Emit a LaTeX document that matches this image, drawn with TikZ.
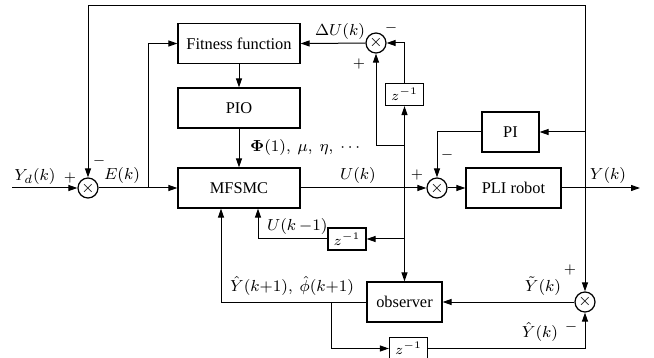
\documentclass[tikz,border=0pt]{standalone}
\usepackage{amsmath}
\usepackage[no-math]{fontspec}
\setmainfont{Liberation Serif}
\usetikzlibrary{arrows.meta,positioning}

\tikzset{
  block/.style={draw, line width=0.6pt, inner sep=0pt, minimum width=61pt, minimum height=20pt},
  smallblock/.style={draw, line width=0.6pt, inner sep=0pt, minimum width=19pt, minimum height=11pt,
    font=\fontsize{7}{8}\selectfont},
  sum/.style={draw, circle, line width=0.6pt, inner sep=0pt, minimum size=10pt},
  sign/.style={inner sep=0pt, font=\fontsize{7}{8}\selectfont}
}

\begin{document}
\begin{tikzpicture}[x=0.5pt, y=-0.5pt, line width=0.5pt,
    >={Triangle[length=4.5pt,width=3pt]},
    font=\fontsize{8.2}{9.8}\selectfont]
  \useasboundingbox (0,0) rectangle (654,358);
  % blocks
  \node[block] (fit) at (239,43.5) {Fitness function};
  \node[block] (pio) at (239,108) {PIO};
  \node[block] (mfsmc) at (239,188) {MFSMC};
  \node[block, minimum width=28.5pt] (pi) at (510.5,132) {PI};
  \node[block, minimum width=47.5pt] (robot) at (513.5,188) {PLI robot};
  \node[block, minimum width=37.5pt] (obs) at (404.5,302) {observer};
  \node[smallblock] (za) at (404.5,94.5) {$z^{-1}$};
  \node[smallblock] (zb) at (347,239) {$z^{-1}$};
  \node[smallblock] (zc) at (408.5,348.5) {$z^{-1}$};
  % summing junctions
  \node[sum] (s1) at (88,188) {$\times$};
  \node[sum] (s2) at (376,43) {$\times$};
  \node[sum] (s3) at (437,188) {$\times$};
  \node[sum] (s4) at (585,302) {$\times$};
  % branch points
  \coordinate (in) at (12,188);
  \coordinate (eb) at (148,188);
  \coordinate (out) at (640,188);
  \coordinate (yb) at (585,188);
  \coordinate (tl) at (88,6);
  \coordinate (pib) at (585,132);
  \coordinate (ub) at (404.5,188);
  \coordinate (ua) at (404.5,146);
  \coordinate (uc) at (404.5,239);
  \coordinate (ob) at (331,302);
  % forward path
  \draw[->] (in) -- (s1);
  \draw[->] (s1) -- (mfsmc);
  \draw[->] (eb) |- (fit.west);
  \draw[->] (fit) -- (pio);
  \draw[->] (pio) -- (mfsmc);
  \draw[->] (mfsmc) -- (s3);
  \draw[->] (s3) -- (robot);
  \draw[->] (robot) -- (out);
  % output feedback
  \draw[->] (yb) |- (tl) -- (s1);
  \draw[->] (pib) -- (pi.east);
  \draw[->] (pi.west) -| (s3.north);
  \draw[->] (yb) -- (s4);
  % control increment
  \draw[->] (ub) -- (za.south);
  \draw[->] (za.north) |- (s2.east);
  \draw[->] (ua) -| (s2.south);
  \draw[->] (s2) -- (fit.east);
  % observer loop
  \draw[->] (ub) -- (obs.north);
  \draw[->] (uc) -- (zb.east);
  \draw[->] (zb.west) -| ([xshift=9.5pt]mfsmc.south);
  \draw[->] (s4) -- (obs.east);
  \draw[->] (obs.west) -| ([xshift=-9pt]mfsmc.south);
  \draw[->] (ob) |- (zc.west);
  \draw[->] (zc.east) -| (s4.south);
  % labels
  \node at (35,177) {$Y_d(k)$};
  \node[sign] at (70,178) {$+$};
  \node[sign] at (99,161) {$-$};
  \node at (122,176) {$E(k)$};
  \node at (340,32) {$\Delta U(k)$};
  \node[sign] at (391,28) {$-$};
  \node[sign] at (359,64) {$+$};
  \node[anchor=west] at (243,148) {$\mathbf{\Phi}(1),\ \mu,\ \eta,\ \cdots$};
  \node at (358,176) {$U(k)$};
  \node[sign] at (417,175) {$+$};
  \node[sign] at (447,155) {$-$};
  \node at (608,176) {$Y(k)$};
  \node[anchor=west] at (260,226) {$U(k\,{-}1)$};
  \node[anchor=west] at (223,286) {$\hat{Y}(k{+}1),\ \hat{\phi}(k{+}1)$};
  \node at (543,286) {$\tilde{Y}(k)$};
  \node[sign] at (570,270) {$+$};
  \node at (540,332) {$\hat{Y}(k)$};
  \node[sign] at (571,327) {$-$};
\end{tikzpicture}
\end{document}
